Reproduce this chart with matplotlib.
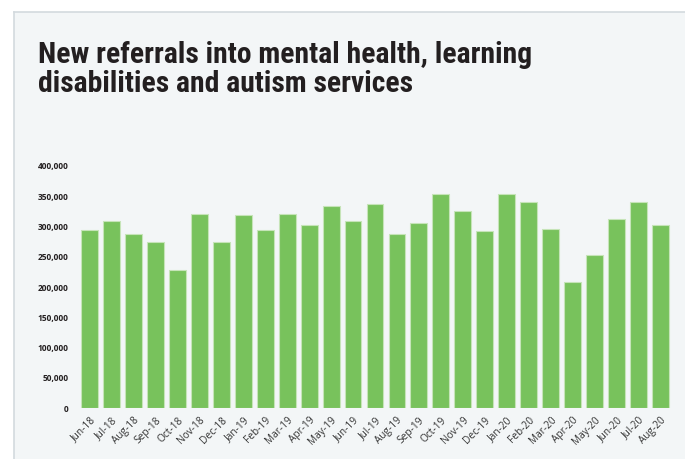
import matplotlib
matplotlib.use("Agg")
import matplotlib.pyplot as plt
from matplotlib.lines import Line2D
from matplotlib.patches import Rectangle
from matplotlib.ticker import FuncFormatter

months = ["Jun-18", "Jul-18", "Aug-18", "Sep-18", "Oct-18", "Nov-18", "Dec-18",
          "Jan-19", "Feb-19", "Mar-19", "Apr-19", "May-19", "Jun-19", "Jul-19",
          "Aug-19", "Sep-19", "Oct-19", "Nov-19", "Dec-19", "Jan-20", "Feb-20",
          "Mar-20", "Apr-20", "May-20", "Jun-20", "Jul-20", "Aug-20"]
referrals = [294000, 309500, 287000, 274000, 227500, 320500, 274000,
             318500, 294000, 320500, 302000, 334000, 309500, 337500,
             287000, 305500, 353000, 326000, 292500, 353000, 341000,
             296500, 208000, 253500, 312000, 340000, 302000]
y_ticks = [0, 50000, 100000, 150000, 200000, 250000, 300000, 350000, 400000]

title_lines = ["New referrals into mental health, learning",
               "disabilities and autism services"]

bar_color = "#78c25c"
edge_color = "#c6e4b8"
panel_color = "#f3f6f7"
border_color = "#d3dade"

W, H = 685, 459
fig = plt.figure(figsize=(W / 100, H / 100), dpi=100)
fig.patch.set_facecolor("white")

# light panel with border on the top and left
fig.patches.append(Rectangle((13.5 / W, 0), 1, 1 - 11.5 / H, transform=fig.transFigure,
                             facecolor=panel_color, edgecolor="none", zorder=-10))
fig.lines.append(Line2D([13.5 / W, 1], [1 - 11.5 / H] * 2, transform=fig.transFigure,
                        color=border_color, lw=1.2, zorder=-9))
fig.lines.append(Line2D([13.5 / W] * 2, [0, 1 - 11.5 / H], transform=fig.transFigure,
                        color=border_color, lw=1.2, zorder=-9))

for i, line in enumerate(title_lines):
    fig.text(38 / W, 1 - (63 + 28.5 * i) / H, line, ha="left", va="baseline",
             fontsize=21.3, fontweight="bold", color="#231f20", fontstretch="condensed",
             family=["Roboto Condensed", "Liberation Sans Narrow", "DejaVu Sans"])

ax = fig.add_axes([78.5 / W, 51 / H, 593 / W, 242 / H])
ax.set_facecolor("none")
x = range(len(months))
ax.bar(x, referrals, width=0.77, color=bar_color, edgecolor=edge_color, linewidth=0.8)

ax.set_xlim(-0.5, len(months) - 0.5)
ax.set_ylim(0, 400000)
ax.set_yticks(y_ticks)
ax.yaxis.set_major_formatter(FuncFormatter(lambda v, p: f"{int(v):,}"))
ax.set_xticks(list(x))
ax.set_xticklabels(months, rotation=45, ha="right", va="top", rotation_mode="anchor")

for lbl in ax.get_yticklabels():
    lbl.set_family(["Open Sans", "DejaVu Sans"])
    lbl.set_fontweight("bold")
    lbl.set_fontsize(6)
    lbl.set_color("#231f20")
for lbl in ax.get_xticklabels():
    lbl.set_family(["Open Sans", "DejaVu Sans"])
    lbl.set_fontsize(7.3)
    lbl.set_color("#333333")

ax.tick_params(axis="y", length=0, pad=7)
ax.tick_params(axis="x", length=0, pad=5)
for s in ax.spines.values():
    s.set_visible(False)

fig.savefig("out.png", dpi=100, facecolor=fig.get_facecolor())
